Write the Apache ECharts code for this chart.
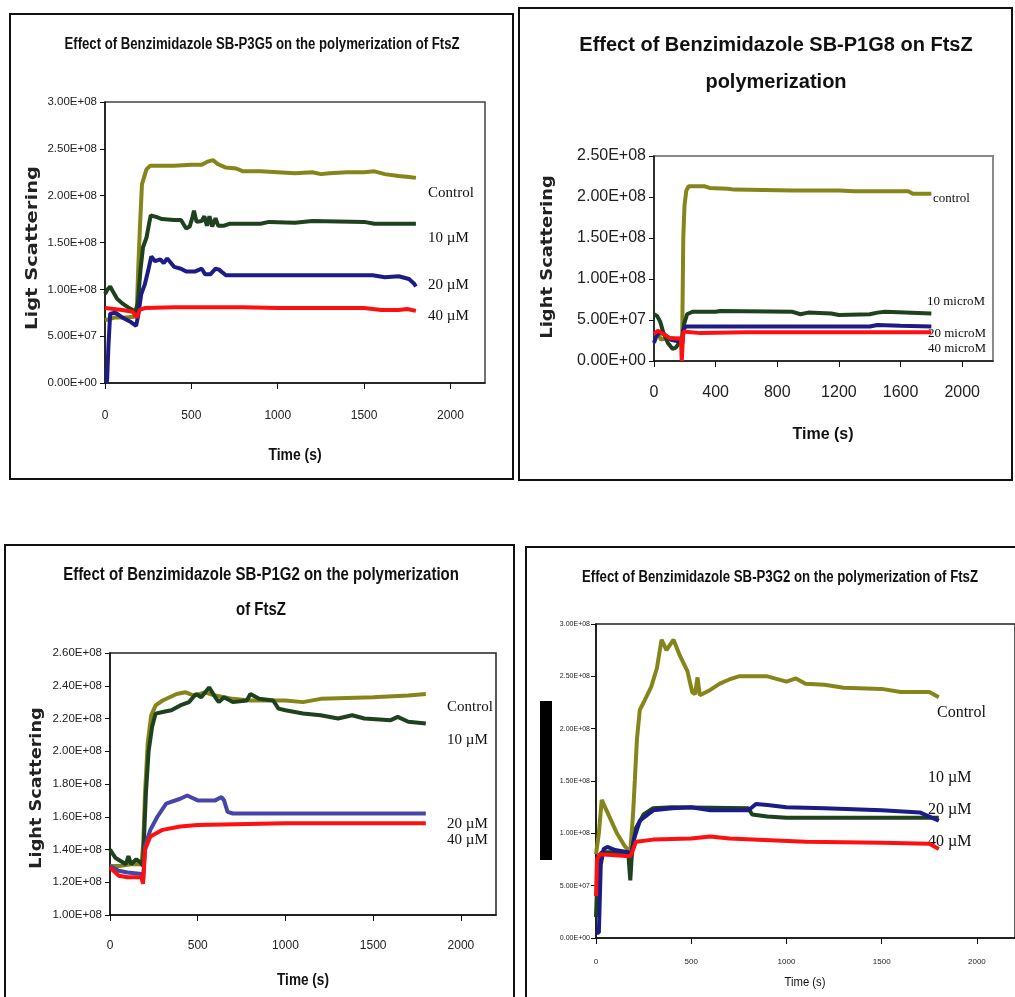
<!DOCTYPE html>
<html>
<head>
<meta charset="utf-8">
<title>Benzimidazole FtsZ polymerization</title>
<script src="https://cdn.jsdelivr.net/npm/echarts@6/dist/echarts.min.js"></script>
<style>
  html, body { margin: 0; padding: 0; background: #fff; }
  #chart { width: 1015px; height: 997px; }
</style>
</head>
<body>
<div id="chart"></div>
<script type="text/javascript">
// values are light scattering in units of 1E+08, time in seconds
// ---- SB-P3G5 ----
var p1Control = [[0,0.67],[60,0.70],[120,0.70],[183,0.71],[192,1.20],[202,1.65],[214,2.12],[240,2.28],[262,2.32],[400,2.32],[500,2.33],[560,2.33],[590,2.36],[625,2.38],[650,2.34],[700,2.30],[760,2.29],[800,2.26],[900,2.26],[1000,2.25],[1100,2.24],[1200,2.25],[1250,2.23],[1300,2.24],[1400,2.25],[1500,2.25],[1560,2.26],[1620,2.23],[1700,2.21],[1760,2.20],[1800,2.19]];
var p1Ten = [[0,0.95],[15,1.00],[30,1.03],[45,0.98],[70,0.90],[100,0.85],[140,0.80],[175,0.76],[190,0.85],[205,1.20],[220,1.45],[240,1.55],[255,1.70],[265,1.79],[300,1.77],[330,1.75],[400,1.74],[440,1.74],[470,1.65],[490,1.67],[505,1.76],[515,1.84],[530,1.72],[560,1.73],[575,1.78],[590,1.68],[605,1.78],[620,1.67],[640,1.76],[655,1.68],[690,1.68],[720,1.70],[900,1.70],[950,1.72],[1100,1.71],[1200,1.73],[1500,1.72],[1560,1.70],[1800,1.70]];
var p1Twenty = [[0,0.02],[12,0.02],[20,0.40],[30,0.74],[60,0.75],[100,0.70],[150,0.65],[180,0.61],[190,0.70],[210,0.95],[230,1.05],[250,1.20],[268,1.35],[290,1.30],[320,1.32],[340,1.28],[360,1.33],[400,1.24],[440,1.22],[470,1.19],[520,1.19],[560,1.22],[580,1.16],[610,1.16],[640,1.22],[660,1.21],[700,1.15],[1000,1.15],[1550,1.15],[1620,1.13],[1700,1.14],[1760,1.11],[1790,1.06],[1800,1.03]];
var p1Forty = [[0,0.80],[50,0.79],[100,0.78],[160,0.76],[185,0.70],[200,0.78],[230,0.80],[400,0.81],[800,0.81],[1000,0.80],[1500,0.80],[1600,0.78],[1700,0.78],[1750,0.79],[1800,0.77]];

// ---- SB-P1G8 ----
var p2Control = [[0,0.33],[30,0.33],[45,0.26],[80,0.28],[140,0.27],[183,0.28],[190,1.50],[198,1.90],[210,2.08],[225,2.13],[330,2.13],[360,2.11],[480,2.10],[520,2.09],[900,2.08],[1200,2.08],[1300,2.07],[1650,2.07],[1680,2.04],[1800,2.04]];
var p2Ten = [[0,0.57],[20,0.55],[40,0.48],[60,0.35],[90,0.22],[120,0.15],[140,0.16],[160,0.21],[185,0.22],[195,0.45],[215,0.57],[250,0.60],[400,0.60],[430,0.61],[900,0.60],[950,0.57],[1000,0.59],[1150,0.58],[1200,0.56],[1400,0.57],[1450,0.59],[1500,0.60],[1800,0.58]];
var p2Twenty = [[0,0.22],[15,0.30],[40,0.36],[70,0.32],[110,0.26],[180,0.23],[190,0.38],[205,0.42],[1400,0.42],[1450,0.44],[1600,0.43],[1800,0.42]];
var p2Forty = [[0,0.33],[25,0.37],[60,0.33],[100,0.28],[175,0.27],[180,0.00],[186,0.00],[190,0.36],[300,0.34],[600,0.35],[1800,0.35]];

// ---- SB-P1G2 ----
var p3Control = [[0,1.30],[60,1.30],[120,1.31],[180,1.31],[190,1.45],[200,1.75],[215,2.05],[235,2.22],[260,2.28],[300,2.31],[380,2.35],[430,2.36],[480,2.34],[540,2.36],[600,2.34],[700,2.32],[800,2.31],[1000,2.31],[1100,2.30],[1200,2.32],[1500,2.33],[1700,2.34],[1800,2.35]];
var p3Ten = [[0,1.40],[30,1.35],[60,1.33],[90,1.31],[105,1.36],[120,1.31],[150,1.34],[175,1.32],[188,1.30],[195,1.50],[205,1.75],[220,2.00],[240,2.15],[260,2.23],[300,2.24],[350,2.25],[400,2.28],[450,2.30],[490,2.35],[520,2.33],[565,2.39],[600,2.33],[620,2.30],[650,2.33],[700,2.30],[780,2.31],[800,2.35],[850,2.32],[930,2.31],[960,2.26],[1000,2.25],[1100,2.23],[1200,2.22],[1300,2.20],[1380,2.22],[1450,2.20],[1600,2.19],[1640,2.21],[1700,2.18],[1800,2.17]];
var p3Twenty = [[0,1.30],[50,1.27],[100,1.26],[180,1.25],[188,1.20],[200,1.42],[230,1.52],[270,1.60],[320,1.68],[400,1.71],[440,1.73],[500,1.70],[600,1.70],[635,1.72],[650,1.70],[670,1.63],[700,1.62],[1800,1.62]];
var p3Forty = [[0,1.29],[50,1.24],[100,1.23],[180,1.23],[188,1.19],[200,1.40],[230,1.48],[300,1.52],[400,1.54],[500,1.55],[1000,1.56],[1800,1.56]];

// ---- SB-P3G2 ----
var p4Control = [[0,0.80],[15,1.00],[30,1.32],[60,1.20],[110,1.00],[150,0.88],[180,0.82],[195,1.20],[204,1.51],[215,1.90],[230,2.18],[250,2.25],[290,2.40],[320,2.58],[344,2.85],[370,2.75],[407,2.85],[440,2.70],[480,2.55],[505,2.35],[520,2.33],[533,2.49],[545,2.32],[600,2.37],[650,2.43],[700,2.47],[750,2.50],[900,2.50],[1000,2.45],[1050,2.48],[1100,2.43],[1200,2.42],[1300,2.39],[1500,2.38],[1600,2.35],[1750,2.35],[1800,2.30]];
var p4Ten = [[0,0.20],[10,0.75],[30,0.82],[100,0.82],[170,0.80],[180,0.55],[190,0.85],[210,1.05],[250,1.18],[300,1.24],[400,1.25],[800,1.24],[820,1.18],[900,1.16],[1000,1.15],[1800,1.15]];
var p4Twenty = [[0,0.05],[15,0.05],[25,0.70],[40,0.85],[60,0.87],[100,0.84],[170,0.82],[185,0.78],[200,0.95],[230,1.12],[300,1.22],[400,1.24],[500,1.25],[600,1.22],[800,1.22],[840,1.28],[900,1.27],[1000,1.25],[1200,1.24],[1500,1.22],[1700,1.20],[1800,1.12]];
var p4Forty = [[0,0.40],[5,0.75],[20,0.80],[100,0.79],[180,0.78],[190,0.82],[210,0.92],[300,0.94],[500,0.95],[600,0.97],[700,0.95],[1100,0.92],[1500,0.91],[1750,0.90],[1800,0.85]];

var titles = [
  ['Effect of Benzimidazole SB-P3G5 on the polymerization of FtsZ'],
  ['Effect of Benzimidazole SB-P1G8 on FtsZ', 'polymerization'],
  ['Effect of Benzimidazole SB-P1G2 on the polymerization', 'of FtsZ'],
  ['Effect of Benzimidazole SB-P3G2 on the polymerization of FtsZ']
];
var yNames = ['Ligt Scattering', 'Light Scattering', 'Light Scattering', ''];
var seriesNames = [
  ['Control', '10 µM', '20 µM', '40 µM'],
  ['control', '10 microM', '20 microM', '40 microM'],
  ['Control', '10 µM', '20 µM', '40 µM'],
  ['Control', '10 µM', '20 µM', '40 µM']
];
var panelData = [
  [p1Control, p1Ten, p1Twenty, p1Forty],
  [p2Control, p2Ten, p2Twenty, p2Forty],
  [p3Control, p3Ten, p3Twenty, p3Forty],
  [p4Control, p4Ten, p4Twenty, p4Forty]
];

var ARIAL = '"Liberation Sans", Arial, sans-serif';
var SERIF = '"Liberation Serif", "Times New Roman", serif';
var WIDE = '"DejaVu Sans", sans-serif';

// layout of the four panels (scaleX squeezes text to the narrow look of the original)
var layout = [
  { grid: {left: 105, top: 102, width: 380, height: 281}, x: [0, 2200, 500], y: [0, 3, 0.5],
    xTick: {size: 12, margin: 27}, yTick: {size: 11.5, margin: 8}, border: '#444',
    lineColors: ['#85851a', '#1d421d', '#1c1c88', '#ff1010'],
    title: {x: 262, y: [45], size: 16, sx: 0.823},
    xName: {x: 295, y: 455, size: 17, sx: 0.82}, yName: {x: 33, y: 248, size: 15, sx: 1.3},
    labels: {x: [428, 428, 428, 428], y: [193, 238, 285, 316], size: 15} },
  { grid: {left: 654, top: 156, width: 339, height: 205}, x: [0, 2200, 400], y: [0, 2.5, 0.5],
    xTick: {size: 16, margin: 24}, yTick: {size: 16, margin: 8}, border: '#8a8a8a',
    lineColors: ['#85851a', '#1d421d', '#1c1c88', '#ff1010'],
    title: {x: 776, y: [45, 82], size: 20, sx: 1},
    xName: {x: 823, y: 435, size: 16, sx: 1}, yName: {x: 548, y: 257, size: 16, sx: 1.12},
    labels: {x: [933, 927, 928, 928], y: [199, 302, 334, 349], size: 13} },
  { grid: {left: 110, top: 653, width: 386, height: 262}, x: [0, 2200, 500], y: [1.0, 2.6, 0.2],
    xTick: {size: 12, margin: 25}, yTick: {size: 11.5, margin: 8}, border: '#222',
    lineColors: ['#85851a', '#1d421d', '#4646a8', '#ff1010'],
    title: {x: 261, y: [575, 610], size: 18, sx: 0.833},
    xName: {x: 303, y: 980, size: 17, sx: 0.8}, yName: {x: 37, y: 788, size: 15, sx: 1.18},
    labels: {x: [447, 447, 447, 447], y: [707, 740, 824, 840], size: 15} },
  { grid: {left: 596, top: 624, width: 421, height: 314}, x: [0, 2200, 500], y: [0, 3, 0.5],
    xTick: {size: 8, margin: 20}, yTick: {size: 7, margin: 6}, border: '#222',
    lineColors: ['#85851a', '#1d421d', '#1c1c88', '#ff1010'],
    title: {x: 780, y: [578], size: 16, sx: 0.825},
    xName: {x: 805, y: 982, size: 13, sx: 0.87, weight: 'normal'}, yName: null,
    labels: {x: [937, 928, 928, 928], y: [713, 778, 810, 842], size: 16} }
];
// outer frames of each panel
var frames = [
  {x: 10, y: 14, w: 503, h: 465},
  {x: 519, y: 8, w: 493, h: 472},
  {x: 5, y: 545, w: 509, h: 470},
  {x: 526, y: 547, w: 500, h: 470}
];

function sci(v) {
  var val = Math.round(v * 1e8);
  if (val === 0) return '0.00E+00';
  var e = Math.floor(Math.log10(val) + 1e-9);
  var m = val / Math.pow(10, e);
  return m.toFixed(2) + 'E+' + (e < 10 ? '0' + e : e);
}

var grids = [], xAxes = [], yAxes = [], series = [], graphics = [];

frames.forEach(function (f) {
  graphics.push({type: 'rect', shape: {x: f.x, y: f.y, width: f.w, height: f.h},
    style: {fill: 'none', stroke: '#111', lineWidth: 2}, z: 1});
});

layout.forEach(function (L, i) {
  grids.push(Object.assign({show: true, borderColor: L.border, borderWidth: i === 1 ? 2 : 1.5,
    backgroundColor: 'transparent', containLabel: false}, L.grid));
  xAxes.push({
    type: 'value', gridIndex: i, min: L.x[0], max: L.x[1], interval: L.x[2],
    axisLine: {onZero: false, lineStyle: {color: '#111', width: 1.5}},
    axisTick: {show: true, length: 6, lineStyle: {color: '#111'}},
    splitLine: {show: false},
    axisLabel: {color: '#222', fontFamily: ARIAL, fontSize: L.xTick.size, margin: L.xTick.margin,
      showMaxLabel: false, formatter: function (v) { return String(v); }}
  });
  yAxes.push({
    type: 'value', gridIndex: i, min: L.y[0], max: L.y[1], interval: L.y[2],
    axisLine: {show: true, onZero: false, lineStyle: {color: '#111', width: 1.5}},
    axisTick: {show: true, length: 5, lineStyle: {color: '#111'}},
    splitLine: {show: false},
    axisLabel: {color: '#222', fontFamily: ARIAL, fontSize: L.yTick.size, margin: L.yTick.margin, formatter: sci}
  });
  panelData[i].forEach(function (d, k) {
    series.push({
      name: seriesNames[i][k], type: 'line', xAxisIndex: i, yAxisIndex: i,
      data: d, showSymbol: false, animation: false,
      lineStyle: {color: L.lineColors[k], width: 4}
    });
  });
  // title lines
  titles[i].forEach(function (t, j) {
    graphics.push({type: 'text', x: L.title.x, y: L.title.y[j], scaleX: L.title.sx,
      style: {text: t, fill: '#111', fontFamily: ARIAL, fontWeight: 'bold', fontSize: L.title.size,
        align: 'center', verticalAlign: 'middle'}});
  });
  graphics.push({type: 'text', x: L.xName.x, y: L.xName.y, scaleX: L.xName.sx,
    style: {text: 'Time (s)', fill: '#111', fontFamily: ARIAL, fontWeight: L.xName.weight || 'bold',
      fontSize: L.xName.size, align: 'center', verticalAlign: 'middle'}});
  if (L.yName) {
    graphics.push({type: 'text', x: L.yName.x, y: L.yName.y, rotation: Math.PI / 2, scaleX: L.yName.sx,
      style: {text: yNames[i], fill: '#222', fontFamily: WIDE, fontWeight: 'bold',
        fontSize: L.yName.size, align: 'center', verticalAlign: 'middle'}});
  }
  seriesNames[i].forEach(function (n, k) {
    graphics.push({type: 'text', x: L.labels.x[k], y: L.labels.y[k],
      style: {text: n, fill: '#111', fontFamily: SERIF, fontSize: L.labels.size,
        align: 'left', verticalAlign: 'middle'}});
  });
});

// black bar left of the last panel
graphics.push({type: 'rect', shape: {x: 540, y: 701, width: 12, height: 159}, style: {fill: '#000'}});

var myChart = echarts.init(document.getElementById('chart'), null, {renderer: 'canvas'});
myChart.setOption({
  backgroundColor: '#fff',
  animation: false,
  grid: grids,
  xAxis: xAxes,
  yAxis: yAxes,
  series: series,
  graphic: graphics
});
</script>
</body>
</html>
